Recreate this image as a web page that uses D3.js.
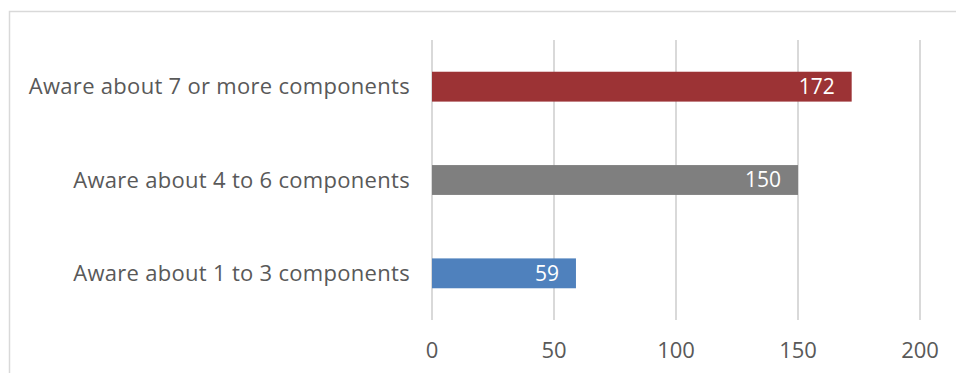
<!DOCTYPE html>
<html>
<head>
<meta charset="utf-8">
<script src="https://cdn.jsdelivr.net/npm/d3@7"></script>
<style>
  body { margin: 0; background: #fff; }
  text { font-family: "Open Sans", sans-serif; }
</style>
</head>
<body>
<svg width="956" height="373"></svg>
<script>
// data
var categories = ["Aware about 7 or more components", "Aware about 4 to 6 components", "Aware about 1 to 3 components"];
var values = [172, 150, 59];
var colors = ["#9c3335", "#7f7f7f", "#4f81bd"];
var ticks = [0, 50, 100, 150, 200];

var svg = d3.select("svg"),
    width = +svg.attr("width"),
    height = +svg.attr("height");

// chart frame (only top & left visible in the crop)
svg.append("path")
    .attr("d", "M9.5," + height + "V11.5H" + width)
    .attr("fill", "none")
    .attr("stroke", "#d9d9d9")
    .attr("stroke-width", 1.5);

var x = d3.scaleLinear()
    .domain([0, 200])
    .range([432, 920]);

var y = d3.scaleBand()
    .domain(categories)
    .range([40, 320])
    .paddingInner(0.68)
    .paddingOuter(0.34);

// gridlines
svg.append("g")
    .selectAll("line")
    .data(ticks)
    .enter()
    .append("line")
    .attr("x1", function (d) { return x(d); })
    .attr("x2", function (d) { return x(d); })
    .attr("y1", 40)
    .attr("y2", 320)
    .attr("stroke", "#d9d9d9")
    .attr("stroke-width", 2);

// x tick labels
svg.append("g")
    .selectAll("text")
    .data(ticks)
    .enter()
    .append("text")
    .attr("x", function (d) { return x(d); })
    .attr("y", 350)
    .attr("dy", "0.35em")
    .attr("text-anchor", "middle")
    .attr("fill", "#595959")
    .style("font-size", "22px")
    .text(function (d) { return d; });

// category labels
svg.append("g")
    .selectAll("text")
    .data(categories)
    .enter()
    .append("text")
    .attr("x", 410)
    .attr("y", function (d) { return y(d) + y.bandwidth() / 2; })
    .attr("dy", "0.35em")
    .attr("text-anchor", "end")
    .attr("fill", "#595959")
    .style("font-size", "22px")
    .style("letter-spacing", "0.3px")
    .text(function (d) { return d; });

// bars
svg.append("g")
    .selectAll("rect")
    .data(values)
    .enter()
    .append("rect")
    .attr("x", x(0))
    .attr("y", function (d, i) { return y(categories[i]); })
    .attr("width", function (d) { return x(d) - x(0); })
    .attr("height", y.bandwidth())
    .attr("fill", function (d, i) { return colors[i]; });

// value labels
svg.append("g")
    .selectAll("text")
    .data(values)
    .enter()
    .append("text")
    .attr("x", function (d) { return x(d) - 17; })
    .attr("y", function (d, i) { return y(categories[i]) + y.bandwidth() / 2; })
    .attr("dy", "0.35em")
    .attr("text-anchor", "end")
    .attr("fill", "#fff")
    .style("font-size", "21px")
    .text(function (d) { return d; });
</script>
</body>
</html>
